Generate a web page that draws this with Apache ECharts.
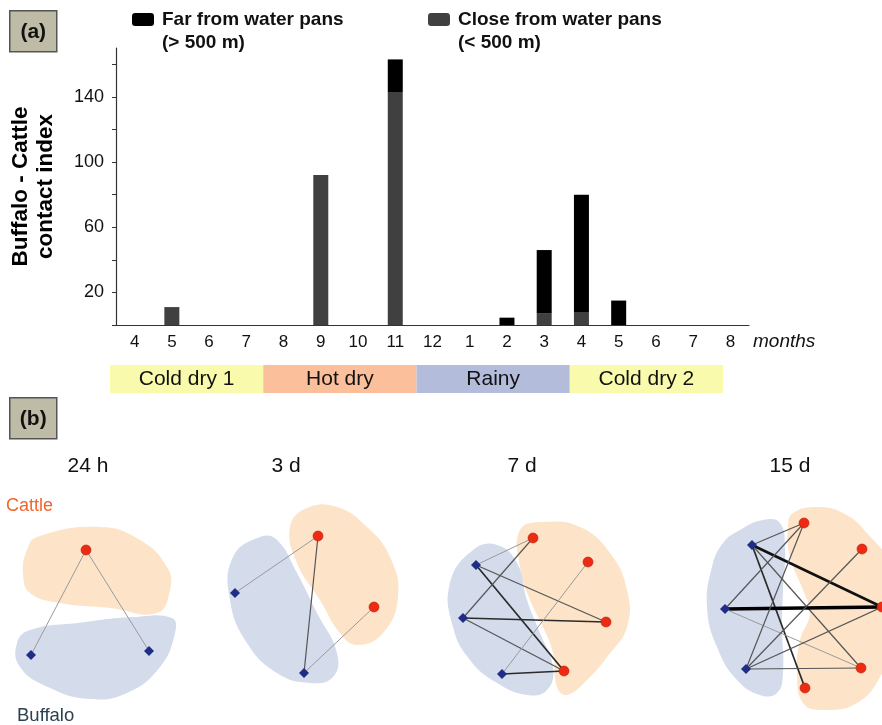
<!DOCTYPE html>
<html>
<head>
<meta charset="utf-8">
<script src="https://cdn.jsdelivr.net/npm/echarts@6/dist/echarts.min.js"></script>
<style>
  html, body { margin: 0; padding: 0; background: #fff; }
  #main { width: 882px; height: 725px; }
</style>
</head>
<body>
<div id="main"></div>
<script>
// (a) contact index per month
var months = ['4', '5', '6', '7', '8', '9', '10', '11', '12', '1', '2', '3', '4', '5', '6', '7', '8'];
var closeVals = [0, 11, 0, 0, 0, 92, 0, 143, 0, 0, 0, 7, 8, 0, 0, 0, 0];
var farVals = [0, 0, 0, 0, 0, 0, 0, 20, 0, 0, 4.5, 39, 72, 15, 0, 0, 0];
var yTicks = [0, 20, 40, 60, 80, 100, 120, 140, 160];
var yLabels = [20, 60, 100, 140];
var seasons = ['Cold dry 1', 'Hot dry', 'Rainy', 'Cold dry 2'];
var seasonColors = ['#f9faab', '#fbc09b', '#b4bcdc', '#f9faab'];
var legendLabels = {
  Far: 'Far from water pans\n(> 500 m)',
  Close: 'Close from water pans\n(< 500 m)'
};

// (b) networks: node positions, edges [buffalo, cattle, weight]
var panelTitles = ['24 h', '3 d', '7 d', '15 d'];
var cattleNodes = [
  [[86, 550]],
  [[318, 536], [374, 607]],
  [[533, 538], [588, 562], [606, 622], [564, 671]],
  [[804, 523], [862, 549], [882, 607], [861, 668], [805, 688]]
];
var buffaloNodes = [
  [[31, 655], [149, 651]],
  [[235, 593], [304, 673]],
  [[476, 565], [463, 618], [502, 674]],
  [[752, 545], [725, 609], [746, 669]]
];
var edges = [
  [[0, 0, 1], [1, 0, 1]],
  [[0, 0, 1], [1, 0, 2], [1, 1, 1]],
  [[0, 0, 1], [0, 2, 2], [0, 3, 3], [1, 0, 2], [1, 2, 3], [1, 3, 2], [2, 1, 1], [2, 3, 3]],
  [[0, 0, 2], [0, 2, 4], [0, 3, 2], [0, 4, 3], [1, 0, 2], [1, 2, 5], [1, 3, 1],
   [2, 0, 2], [2, 1, 2], [2, 2, 2], [2, 3, 2]]
];
var cattleHulls = [
  [[37, 537], [100, 527], [140, 540], [167, 567], [170, 590], [157, 613], [110, 608], [60, 603], [30, 593], [23, 573], [27, 550]],
  [[290, 527], [307, 508], [337, 507], [367, 527], [390, 557], [398, 597], [383, 633], [357, 645], [340, 633], [320, 600], [297, 563]],
  [[520, 530], [543, 522], [580, 527], [610, 553], [627, 590], [627, 627], [607, 657], [587, 680], [567, 695], [557, 687], [553, 653], [543, 627], [530, 600], [520, 567]],
  [[793, 513], [817, 507], [843, 513], [867, 533], [890, 567], [893, 640], [880, 677], [857, 703], [823, 710], [803, 703], [797, 673], [800, 640], [810, 613], [803, 590], [790, 557], [788, 527]]
];
var buffaloHulls = [
  [[172, 618], [175, 633], [160, 667], [127, 693], [90, 699], [50, 688], [20, 667], [17, 643], [30, 630], [77, 623], [133, 617]],
  [[260, 537], [277, 540], [297, 573], [317, 613], [337, 653], [333, 677], [310, 683], [277, 673], [247, 643], [230, 600], [233, 557]],
  [[473, 550], [497, 545], [517, 563], [527, 600], [540, 633], [553, 667], [547, 690], [527, 695], [497, 683], [470, 660], [453, 627], [450, 583]],
  [[740, 530], [763, 520], [780, 523], [785, 550], [783, 590], [782, 627], [783, 673], [777, 693], [760, 695], [737, 680], [717, 647], [707, 607], [712, 567], [723, 543]]
];

var edgeStyles = {
  1: { color: '#9a9a9a', width: 1 },
  2: { color: '#555', width: 1.2 },
  3: { color: '#2a2a2a', width: 1.7 },
  4: { color: '#111', width: 2.6 },
  5: { color: '#000', width: 3.6 }
};

var graphNodes = [];
var graphLinks = [];
cattleNodes.forEach(function (list, p) {
  list.forEach(function (pt, i) {
    graphNodes.push({
      name: 'c' + p + '_' + i, value: pt, symbol: 'circle', symbolSize: 10,
      itemStyle: { color: '#ee2b12', borderColor: '#b31d0b', borderWidth: 0.6 }
    });
  });
});
buffaloNodes.forEach(function (list, p) {
  list.forEach(function (pt, i) {
    graphNodes.push({
      name: 'b' + p + '_' + i, value: pt, symbol: 'diamond', symbolSize: 10,
      itemStyle: { color: '#1f2d86' }
    });
  });
});
edges.forEach(function (list, p) {
  list.forEach(function (e) {
    graphLinks.push({
      source: 'b' + p + '_' + e[0], target: 'c' + p + '_' + e[1],
      lineStyle: { color: edgeStyles[e[2]].color, width: edgeStyles[e[2]].width, opacity: 1 }
    });
  });
});

var hulls = [];
cattleHulls.forEach(function (h) { hulls.push({ pts: h, color: '#fde4c8' }); });
buffaloHulls.forEach(function (h) { hulls.push({ pts: h, color: '#d4dcec' }); });

function panelBox(label, top) {
  return {
    type: 'group', left: 9, top: top,
    children: [
      { type: 'rect', shape: { x: 0, y: 0, width: 47, height: 41 },
        style: { fill: '#bebba6', stroke: '#555', lineWidth: 1.5 } },
      { type: 'text', x: 23.5, y: 21,
        style: { text: label, font: 'bold 21px "Liberation Sans", Arial', fill: '#111', align: 'center', verticalAlign: 'middle' } }
    ]
  };
}

var titleX = [88, 286, 522, 790];
var graphics = [panelBox('(a)', 10), panelBox('(b)', 397)];
panelTitles.forEach(function (t, i) {
  graphics.push({ type: 'text', x: titleX[i], y: 466,
    style: { text: t, font: '21px "Liberation Sans", Arial', fill: '#111', align: 'center', verticalAlign: 'middle' } });
});
graphics.push({ type: 'text', x: 6, y: 506,
  style: { text: 'Cattle', font: '18px "Liberation Sans", Arial', fill: '#f2662f', verticalAlign: 'middle' } });
graphics.push({ type: 'text', x: 17, y: 716,
  style: { text: 'Buffalo', font: '18.5px "Liberation Sans", Arial', fill: '#2b4150', verticalAlign: 'middle' } });

var legendText = {
  fontFamily: '"Liberation Sans", Arial', fontWeight: 'bold', fontSize: 19,
  color: '#111', lineHeight: 23, padding: [0, 0, 0, 3]
};
// blank first line keeps the first real line level with the icon
function legendFmt(name) { return '\n' + legendLabels[name]; }

var option = {
  backgroundColor: '#fff',
  animation: false,
  textStyle: { fontFamily: '"Liberation Sans", Arial' },
  legend: [
    { data: ['Far'], left: 132, top: -15, padding: 0, formatter: legendFmt,
      itemWidth: 22, itemHeight: 13, icon: 'roundRect', textStyle: legendText, selectedMode: false },
    { data: ['Close'], left: 428, top: -15, padding: 0, formatter: legendFmt,
      itemWidth: 22, itemHeight: 13, icon: 'roundRect', textStyle: legendText, selectedMode: false }
  ],
  grid: [
    { left: 115, top: 48, width: 634, height: 277 },
    { left: 110, top: 365, width: 613, height: 28 },
    { left: 0, top: 0, width: 882, height: 725 }
  ],
  xAxis: [
    { type: 'category', gridIndex: 0, data: months,
      name: 'months', nameLocation: 'end', nameGap: 4,
      nameTextStyle: { fontStyle: 'italic', fontSize: 19, color: '#111', verticalAlign: 'top', padding: [7, 0, 0, 0] },
      axisLine: { lineStyle: { color: '#333', width: 1.2 } },
      axisTick: { length: 5, lineStyle: { color: '#333' } },
      axisLabel: { fontSize: 17, color: '#111', margin: 9 } },
    { type: 'category', gridIndex: 1, data: seasons, show: false },
    { type: 'value', gridIndex: 2, min: 0, max: 882, show: false }
  ],
  yAxis: [
    { type: 'value', gridIndex: 0, min: 0, max: 170,
      name: 'Buffalo - Cattle\ncontact index', nameLocation: 'middle', nameGap: 58,
      nameTextStyle: { fontWeight: 'bold', fontSize: 22.5, lineHeight: 25, color: '#000' },
      splitLine: { show: false },
      axisLine: { show: true, lineStyle: { color: '#333', width: 1.2 } },
      axisTick: { show: true, length: 4, customValues: yTicks, lineStyle: { color: '#333' } },
      axisLabel: { fontSize: 18, color: '#111', margin: 12, customValues: yLabels } },
    { type: 'value', gridIndex: 1, min: 0, max: 1, show: false },
    { type: 'value', gridIndex: 2, min: 0, max: 725, inverse: true, show: false }
  ],
  series: [
    { name: 'Close', type: 'bar', stack: 'c', xAxisIndex: 0, yAxisIndex: 0,
      barWidth: 15, data: closeVals, itemStyle: { color: '#404040' } },
    { name: 'Far', type: 'bar', stack: 'c', xAxisIndex: 0, yAxisIndex: 0,
      barWidth: 15, data: farVals, itemStyle: { color: '#000' } },
    { type: 'bar', xAxisIndex: 1, yAxisIndex: 1, barWidth: '100%', silent: true,
      data: seasons.map(function (s, i) { return { value: 1, itemStyle: { color: seasonColors[i] } }; }),
      label: { show: true, position: 'inside', fontSize: 21, color: '#111',
        formatter: function (p) { return p.name; } } },
    { type: 'custom', xAxisIndex: 2, yAxisIndex: 2, silent: true, clip: false, z: 1,
      data: hulls.map(function (h, i) { return [i, i]; }),
      renderItem: function (params, api) {
        var h = hulls[params.dataIndex];
        return { type: 'polygon',
          shape: { points: h.pts.map(function (p) { return api.coord(p); }), smooth: 0.45 },
          style: { fill: h.color } };
      } },
    { type: 'graph', coordinateSystem: 'cartesian2d', xAxisIndex: 2, yAxisIndex: 2,
      z: 3, silent: true, data: graphNodes, links: graphLinks, label: { show: false } }
  ],
  graphic: graphics
};

var chart = echarts.init(document.getElementById('main'));
chart.setOption(option);
</script>
</body>
</html>
